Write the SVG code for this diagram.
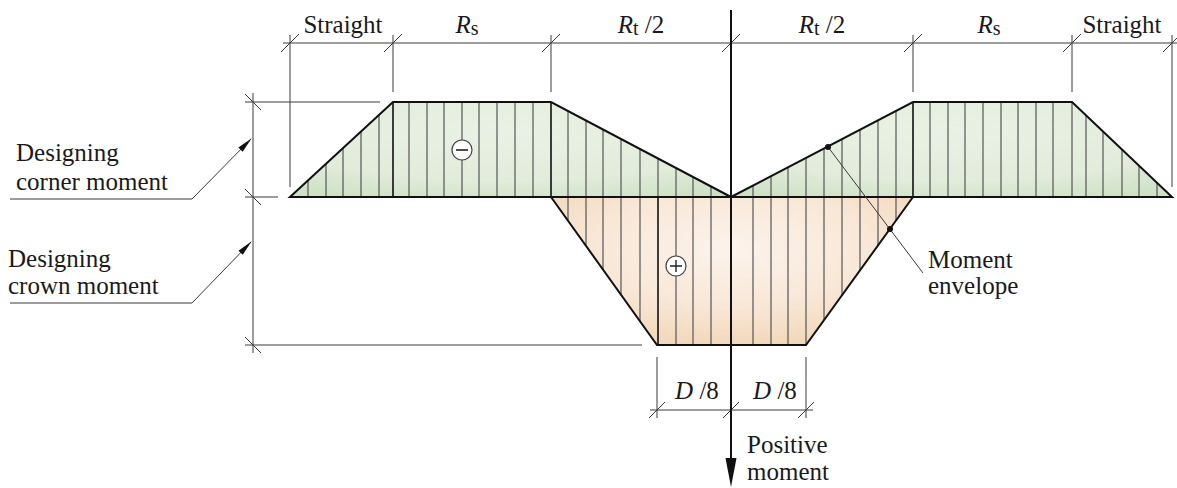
<svg xmlns="http://www.w3.org/2000/svg" width="1177" height="488" viewBox="0 0 1177 488">
<defs>
<style>
.t{font-size:25px;fill:#1a1a1a}
.i{font-style:italic}
.dim{stroke:#3a3a3a;stroke-width:1;fill:none}
.out{stroke:#111;stroke-width:2;fill:none;stroke-linejoin:miter}
.h{stroke:#555;stroke-width:1.2}
.hd{stroke:#111;stroke-width:1.6}
.sym{fill:#fff;stroke:#444;stroke-width:1.2}
</style>
<radialGradient id="gg" cx="0.5" cy="0.3" r="0.8">
<stop offset="0" stop-color="#e9f1e4"/>
<stop offset="0.65" stop-color="#e2ecdb"/>
<stop offset="1" stop-color="#cde1c5"/>
</radialGradient>
<radialGradient id="og" cx="0.5" cy="0.35" r="0.65">
<stop offset="0" stop-color="#fcf3ec"/>
<stop offset="0.6" stop-color="#f8e7d6"/>
<stop offset="1" stop-color="#f2d8bb"/>
</radialGradient>
<clipPath id="cn">
<polygon points="290,197 393,102 551,102 731,197"/>
<polygon points="731,197 913,102 1072,102 1172,197"/>
</clipPath>
<clipPath id="cp">
<polygon points="551,197 657,345 806,345 913,197"/>
</clipPath>
<marker id="ar" viewBox="0 0 16 8" refX="15" refY="4" markerWidth="16" markerHeight="8" markerUnits="userSpaceOnUse" orient="auto">
<path d="M0,1 L16,4 L0,7 Z" fill="#111"/>
</marker>
</defs>

<g id="negative-moment">
<polygon points="290,197 393,102 551,102 731,197" fill="url(#gg)"/>
<polygon points="731,197 913,102 1072,102 1172,197" fill="url(#gg)"/>
<g clip-path="url(#cn)" class="h">
<path d="M308,100V197M326,100V197M343,100V197M361,100V197M379,100V197M409,100V197M427,100V197M444,100V197M462,100V197M479,100V197M497,100V197M515,100V197M533,100V197M568,100V197M586,100V197M603,100V197M621,100V197M640,100V197M658,100V197M676,100V197M693,100V197M711,100V197M753,100V197M771,100V197M788,100V197M806,100V197M824,100V197M842,100V197M860,100V197M878,100V197M896,100V197M930,100V197M948,100V197M965,100V197M983,100V197M1001,100V197M1018,100V197M1036,100V197M1053,100V197M1072,100V197M1086,100V197M1103,100V197M1122,100V197M1139,100V197M1157,100V197"/>
</g>
<path class="hd" d="M393,102V197M551,102V197M913,102V197"/>
<path class="out" d="M290,197 L393,102 L551,102 L731,197 L913,102 L1072,102 L1172,197 Z"/>
<circle class="sym" cx="462" cy="150" r="10"/>
<path d="M456,150H468" stroke="#222" stroke-width="1.6"/>
</g>

<g id="positive-moment">
<polygon points="551,197 657,345 806,345 913,197" fill="url(#og)"/>
<g clip-path="url(#cp)" class="h">
<path d="M568,197V345M586,197V345M603,197V345M621,197V345M640,197V345M676,197V345M693,197V345M711,197V345M753,197V345M771,197V345M788,197V345M806,197V345M824,197V345M842,197V345M860,197V345M878,197V345M896,197V345"/>
</g>
<path class="hd" d="M658,197V345"/>
<path class="out" d="M551,197 L657,345 L806,345 L913,197"/>
<path class="out" d="M290,197 H1172"/>
<circle class="sym" cx="676" cy="266" r="10"/>
<path d="M670,266H682M676,260V272" stroke="#222" stroke-width="1.4"/>
</g>

<g id="connectors">
<path class="dim" d="M283,43H1177M290,35V187M393,35V92M551,35V92M913,35V92M1072,35V92M1172,35V187"/>
<path class="dim" d="M281,52L299,34M384,52L402,34M542,52L560,34M722,52L740,34M904,52L922,34M1063,52L1081,34M1163,52L1177,38"/>
<path class="dim" d="M253,93V353M245,102H380M245,197H278M245,345H642"/>
<path class="dim" d="M245,94L261,110M245,189L261,205M245,337L261,353"/>
<path class="dim" d="M650,410H813M657,357V418M806,357V418"/>
<path class="dim" d="M649,418L665,402M723,418L739,402M798,418L814,402"/>
<path class="dim" d="M10,199H192L251,139" marker-end="url(#ar)"/>
<path class="dim" d="M10,303H192L251,242" marker-end="url(#ar)"/>
<path class="dim" d="M828,147L923,273"/>
<circle cx="828" cy="147" r="3" fill="#111"/>
<circle cx="890" cy="229" r="3" fill="#111"/>
<path d="M731,10V462" stroke="#111" stroke-width="2"/>
<polygon points="725.5,458 736.5,458 731,487" fill="#111"/>
</g>

<g id="labels" font-family="Liberation Serif, serif">
<text class="t" x="343" y="33" text-anchor="middle">Straight</text>
<text class="t" x="1122" y="33" text-anchor="middle">Straight</text>
<text class="t" x="467" y="33" text-anchor="middle"><tspan class="i">R</tspan><tspan font-size="20" dy="2">s</tspan></text>
<text class="t" x="989" y="33" text-anchor="middle"><tspan class="i">R</tspan><tspan font-size="20" dy="2">s</tspan></text>
<text class="t" x="641" y="33" text-anchor="middle"><tspan class="i">R</tspan><tspan font-size="20" dy="2">t</tspan><tspan dy="-2"> /2</tspan></text>
<text class="t" x="822" y="33" text-anchor="middle"><tspan class="i">R</tspan><tspan font-size="20" dy="2">t</tspan><tspan dy="-2"> /2</tspan></text>
<text class="t" x="16" y="161">Designing</text>
<text class="t" x="16" y="190">corner moment</text>
<text class="t" x="8" y="267">Designing</text>
<text class="t" x="8" y="294">crown moment</text>
<text class="t" x="928" y="268">Moment</text>
<text class="t" x="928" y="294">envelope</text>
<text class="t" x="697" y="399" text-anchor="middle"><tspan class="i">D</tspan> /8</text>
<text class="t" x="775" y="399" text-anchor="middle"><tspan class="i">D</tspan> /8</text>
<text class="t" x="747" y="453">Positive</text>
<text class="t" x="747" y="480">moment</text>
</g>
</svg>
